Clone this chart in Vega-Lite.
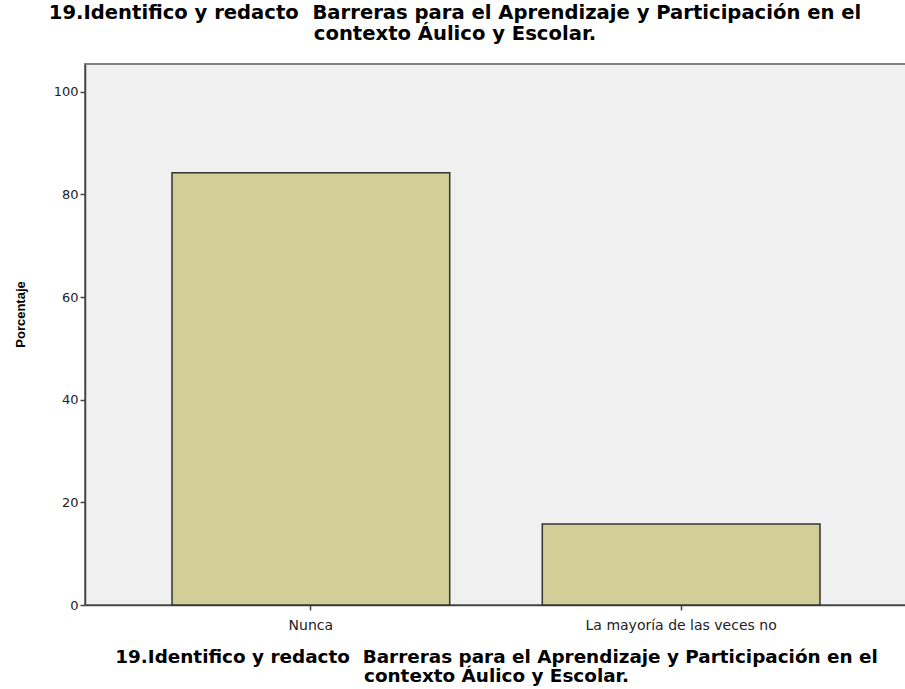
{
  "$schema": "https://vega.github.io/schema/vega-lite/v6.json",
  "autosize": "none",
  "width": 822,
  "height": 541,
  "padding": {"left": 85, "top": 64, "right": 0, "bottom": 84},
  "background": "#ffffff",
  "title": {
    "text": ["19.Identifico y redacto \u00a0Barreras para el Aprendizaje y Participación en el", "contexto Áulico y Escolar."],
    "anchor": "middle",
    "dx": -41,
    "offset": 19,
    "font": "DejaVu Sans",
    "fontSize": 19.6,
    "fontWeight": "bold",
    "color": "#000000",
    "lineHeight": 21
  },
  "config": {
    "view": {"fill": "#f0f0f0", "stroke": "#808080", "strokeWidth": 2},
    "axis": {
      "labelFont": "DejaVu Sans",
      "labelFontSize": 13,
      "labelColor": "#222222",
      "labelLimit": 0,
      "titleFont": "DejaVu Sans",
      "titleFontWeight": "bold",
      "titleColor": "#000000",
      "domainColor": "#444444",
      "domainWidth": 1.5,
      "tickColor": "#444444",
      "tickWidth": 1.5,
      "tickSize": 5,
      "grid": false
    }
  },
  "data": {
    "values": [
      {"respuesta": "Nunca", "porcentaje": 84.2},
      {"respuesta": "La mayoría de las veces no", "porcentaje": 15.8}
    ]
  },
  "mark": {"type": "bar", "fill": "#d3ce97", "stroke": "#333333", "strokeWidth": 1.5},
  "encoding": {
    "x": {
      "field": "respuesta",
      "type": "nominal",
      "sort": null,
      "scale": {"paddingInner": 0.25, "paddingOuter": 0.235},
      "axis": {
        "title": ["19.Identifico y redacto \u00a0Barreras para el Aprendizaje y Participación en el", "contexto Áulico y Escolar."],
        "titleFontSize": 18.4,
        "titleLineHeight": 19,
        "titlePadding": 15,
        "labelFontSize": 14,
        "labelAngle": 0,
        "labelPadding": 8
      }
    },
    "y": {
      "field": "porcentaje",
      "type": "quantitative",
      "scale": {"domain": [0, 105.4], "nice": false},
      "axis": {
        "title": "Porcentaje",
        "titleFont": "Liberation Sans",
        "titleFontSize": 13,
        "titlePadding": 26,
        "titleY": 250,
        "values": [0, 20, 40, 60, 80, 100],
        "labelPadding": 2
      }
    }
  }
}
